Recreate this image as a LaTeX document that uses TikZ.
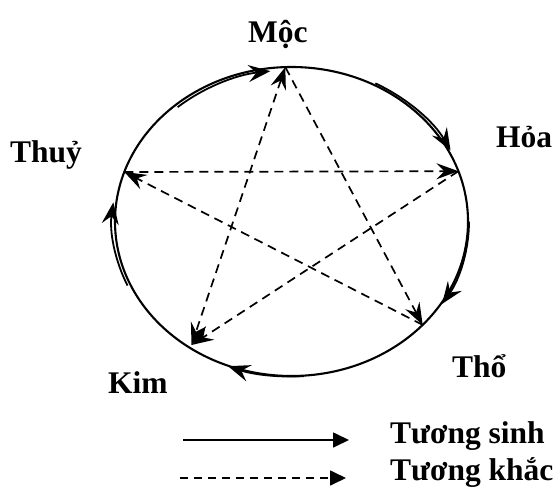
\documentclass[tikz,border=0pt]{standalone}
\usepackage{fontspec}
\setmainfont{Liberation Serif}
\usetikzlibrary{arrows.meta}
\begin{document}
\begin{tikzpicture}[x=1pt,y=-1pt,
  lbl/.style={anchor=base west,inner sep=0pt,font=\fontsize{31.5}{35}\selectfont\bfseries},
  ring/.style={line width=2.1pt},
  sinh/.style={line width=1.8pt,-{Stealth[length=22pt,width=17pt,inset=8pt]}},
  khac/.style={line width=1.7pt,dash pattern=on 9pt off 6pt,-{Stealth[length=22pt,width=16pt,inset=8pt]}},
  legsolid/.style={line width=1.7pt,-{Triangle[length=16pt,width=15pt]}},
  legdash/.style={line width=1.7pt,dash pattern=on 8pt off 6pt,-{Triangle[length=16pt,width=15pt]}}]
\useasboundingbox (0,0) rectangle (556,500);
% ring
\coordinate (c) at (291.5,221.5);
\draw[ring] (c) ellipse [x radius=176.5, y radius=154.5];
% element points on the ring
\coordinate (moc) at (285.3,67.1);
\coordinate (hoa) at (458.4,171.2);
\coordinate (tho) at (422.7,324.9);
\coordinate (kim) at (191.5,345);
\coordinate (thuy) at (124.3,172.0);
% labels
\node[lbl] (tmoc) at (248,43) {Mộc};
\node[lbl] (thoa) at (496,147) {Hỏa};
\node[lbl] (ttho) at (452,377) {Thổ};
\node[lbl] (tkim) at (108,393) {Kim};
\node[lbl] (tthuy) at (10,162) {Thuỷ};
% tuong sinh arcs (clockwise on screen)
\draw[sinh] ([shift={(c)}]229:173.5 and 151.5) arc[start angle=229,end angle=263,x radius=173.5,y radius=151.5];
\draw[sinh] ([shift={(c)}]-62:178.5 and 156.5) arc[start angle=-62,end angle=-27,x radius=178.5,y radius=156.5];
\draw[sinh] ([shift={(c)}]0:177.5 and 155.5) arc[start angle=0,end angle=32,x radius=177.5,y radius=155.5];
\draw[sinh] ([shift={(c)}]86:177 and 155) arc[start angle=86,end angle=111,x radius=177,y radius=155];
\draw[sinh] ([shift={(c)}]156:179.5 and 157.5) arc[start angle=156,end angle=187,x radius=179.5,y radius=157.5];
% tuong khac
\draw[khac,{Stealth[length=22pt,width=16pt,inset=8pt]}-{Stealth[length=22pt,width=16pt,inset=8pt]}] (moc) -- (kim);
\draw[khac] (moc) -- (tho);
\draw[khac] (tho) -- (thuy);
\draw[khac] (thuy) -- (hoa);
\draw[khac] (hoa) -- (kim);
% legend
\coordinate (ls1) at (183,440);
\coordinate (ls2) at (349,440);
\coordinate (ld1) at (180,478);
\coordinate (ld2) at (346,478);
\draw[legsolid] (ls1) -- (ls2);
\draw[legdash] (ld1) -- (ld2);
\node[lbl] (tsinh) at (390,443) {Tương sinh};
\node[lbl] (tkhac) at (390,480) {Tương khắc};
\end{tikzpicture}
\end{document}
